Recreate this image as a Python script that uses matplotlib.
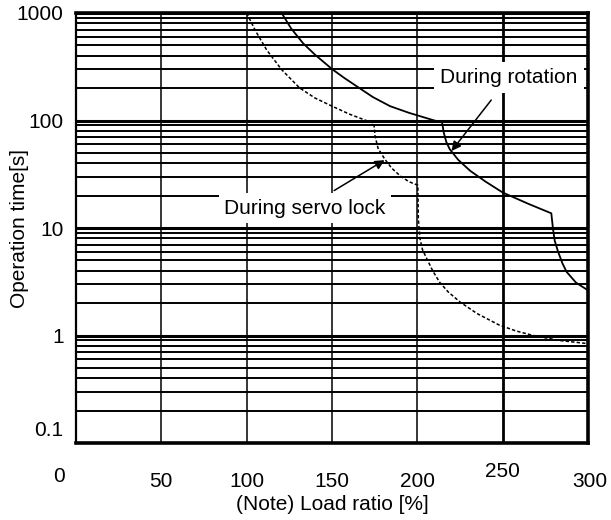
import matplotlib

matplotlib.use("Agg")
import matplotlib.pyplot as plt  # noqa: E402
from matplotlib.transforms import ScaledTranslation  # noqa: E402
from matplotlib.ticker import LogLocator, NullFormatter  # noqa: E402

plt.rcParams["font.family"] = ["Liberation Sans", "DejaVu Sans"]

# readings (load ratio %, operation time s)
rot_x = [120.5, 126, 133, 140, 150, 157, 164.5, 174, 184, 195, 203, 210, 214.5,
         215.5, 217, 219, 224, 231, 240, 250, 265, 278.5, 279.5, 280.5, 282.5, 285, 287.5, 293, 300]
rot_y = [1000, 720, 524, 410, 301, 250, 208, 165, 136, 118, 108, 100, 96,
         77, 63, 54, 43, 34, 27, 21.4, 16.8, 13.7, 9.8, 7.6, 6.0, 4.7, 3.9, 3.1, 2.63]

lock_x = [100, 105, 111.7, 120.5, 131, 140, 150, 160, 170, 174.5, 175.2, 177, 181, 185,
          190, 195, 200.3, 200.6, 201.6, 203, 205.5, 209, 213, 218, 225, 235, 248, 258, 268, 283, 300]
lock_y = [1000, 690, 454, 297, 201, 162, 136, 115, 100, 95, 72, 55, 43.5, 36,
          30.5, 27, 25, 12, 7.9, 6.3, 5.2, 4.0, 3.14, 2.55, 2.05, 1.6, 1.25, 1.1, 1.0, 0.9, 0.84]

x_ticks = [0, 50, 100, 150, 200, 250, 300]
y_ticks = [0.1, 1, 10, 100, 1000]
y_labels = ["0.1", "1", "10", "100", "1000"]

FS = 15

fig = plt.figure(figsize=(6.11, 5.2), dpi=100)
ax = fig.add_axes([76 / 611, 77 / 520, 512 / 611, 430 / 520])

ax.plot(rot_x, rot_y, color="black", lw=1.3, zorder=3)
ax.plot(lock_x, lock_y, color="black", lw=1.1, ls=(0, (2.2, 1.4)), zorder=3)

ax.set_yscale("log")
ax.set_xlim(0, 300)
ax.set_ylim(0.1, 1000)

ax.set_xticks(x_ticks)
ax.set_xticklabels([str(v) for v in x_ticks])
ax.set_yticks(y_ticks)
ax.set_yticklabels(y_labels)
ax.yaxis.set_minor_locator(LogLocator(base=10, subs=range(2, 10)))
ax.yaxis.set_minor_formatter(NullFormatter())
ax.tick_params(which="both", length=0, labelsize=FS)
ax.tick_params(axis="x", pad=21)
ax.tick_params(axis="y", pad=9)

# grid: horizontal log lines, vertical load lines (250 heavier)
ax.grid(which="major", axis="y", color="black", lw=2.2)
ax.grid(which="minor", axis="y", color="black", lw=1.4)
for xv in [50, 100, 150, 200]:
    ax.axvline(xv, color="black", lw=1.1, zorder=1)
ax.axvline(250, color="black", lw=2.0, zorder=1)
ax.set_axisbelow(True)

for side, lw in (("left", 1.6), ("bottom", 2.6), ("right", 2.6), ("top", 2.6)):
    ax.spines[side].set_linewidth(lw)
    ax.spines[side].set_color("black")


# odd label placements in the original
def _shift(lbl, dx, dy):
    lbl.set_transform(lbl.get_transform() + ScaledTranslation(dx / 100, dy / 100, fig.dpi_scale_trans))


xl = ax.get_xticklabels()
_shift(xl[0], -17, 5)
_shift(xl[5], 0, 10)
_shift(xl[6], 2, 0)
_shift(ax.get_yticklabels()[0], 0, 14)

ax.set_xlabel("(Note) Load ratio [%]", fontsize=FS, labelpad=3)
ax.set_ylabel("Operation time[s]", fontsize=FS)
ax.yaxis.set_label_coords(-0.092, 0.5)

ax.annotate("During rotation", xy=(220, 52), xytext=(253.5, 250),
            fontsize=FS, ha="center", va="center", zorder=4,
            bbox=dict(boxstyle="square,pad=0.3", fc="white", ec="none"),
            arrowprops=dict(arrowstyle="-|>", color="black", lw=1.1,
                            mutation_scale=14, shrinkA=6, shrinkB=0))
ax.annotate("During servo lock", xy=(180.8, 42.8), xytext=(134.2, 15.3),
            fontsize=FS, ha="center", va="center", zorder=4,
            bbox=dict(boxstyle="square,pad=0.25", fc="white", ec="none"),
            arrowprops=dict(arrowstyle="-|>", color="black", lw=1.1,
                            mutation_scale=14, shrinkA=4, shrinkB=0))

fig.savefig("out.png", dpi=100, facecolor="white")
